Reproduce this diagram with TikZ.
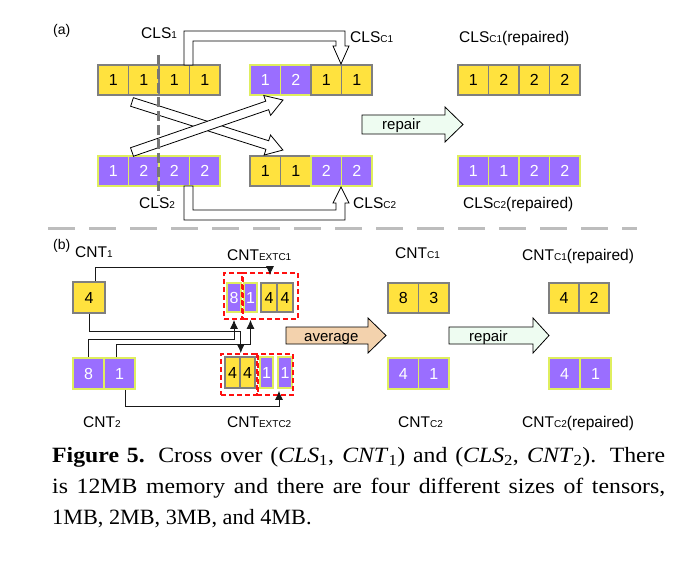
\documentclass[tikz,border=0pt]{standalone}
\usepackage{fontspec}
\newfontfamily\diag{Liberation Sans}
\newfontfamily\capfont[FakeStretch=1.09]{Liberation Serif}
\newfontfamily\capfontn[FakeStretch=1.02]{Liberation Serif}
\usetikzlibrary{arrows.meta,calc}

\definecolor{cellyellow}{HTML}{FFE23E}
\definecolor{cellgray}{HTML}{7F7F7F}
\definecolor{cellpurple}{HTML}{9A6EFF}
\definecolor{celllime}{HTML}{DFEE5E}
\definecolor{mint}{HTML}{EEFCF1}
\definecolor{tanfill}{HTML}{F3D2AD}
\definecolor{sepgray}{HTML}{BDBDBD}
\definecolor{cutgray}{HTML}{767676}
\definecolor{dashred}{HTML}{FF1010}

% label with a small baseline-aligned suffix
\newcommand\tagtext[3][]{{\fontsize{15.5}{16}\selectfont #2}{\fontsize{10}{10}\selectfont #3}{\fontsize{15.5}{16}\selectfont #1}}
% italic variable with a subscript index
\newcommand\vsub[2]{\textit{#1}\textsubscript{#2}}

\tikzset{
  cell/.style={rectangle, inner sep=0pt, line width=1.6pt, minimum height=30pt,
    font=\diag\fontsize{16}{16}\selectfont},
  ycell/.style={cell, draw=cellgray, fill=cellyellow, text=black},
  pcell/.style={cell, draw=celllime, fill=cellpurple, text=white},
  hollow/.style={draw=black, fill=white, line width=0.8pt, line join=miter},
  bigarrow/.style={draw=black, line width=0.8pt, line join=miter},
  lbl/.style={anchor=base west, inner sep=0pt, font=\diag},
  conn/.style={draw=black!90, line width=0.9pt, -{Latex[length=9pt,width=8pt]}},
  redbox/.style={draw=dashred, line width=1.7pt, dash pattern=on 5pt off 3pt},
  capt/.style={anchor=base west, inner sep=0pt, font=\capfont\fontsize{21.8}{24}\selectfont},
}

\begin{document}
\begin{tikzpicture}[x=1pt, y=-1pt]
\fill[white] (0,0) rectangle (677,564);
\useasboundingbox (0,0) rectangle (677,564);

% ---------------- part (a): class crossover ----------------
\node[lbl, font=\diag\fontsize{14}{14}\selectfont] (la) at (53,35) {(a)};

% CLS1
\node[ycell, minimum width=30.5pt] (p1k1) at (113.25,80) {1};
\node[ycell, minimum width=30.5pt] (p1k2) at (143.75,80) {1};
\node[ycell, minimum width=30.5pt] (p1k3) at (174.25,80) {1};
\node[ycell, minimum width=30.5pt] (p1k4) at (204.75,80) {1};
% CLS_C1
\node[pcell, minimum width=30.5pt] (q1k1) at (265.25,80) {1};
\node[pcell, minimum width=30.5pt] (q1k2) at (295.75,80) {2};
\node[ycell, minimum width=30.5pt] (q1k3) at (326.25,80) {1};
\node[ycell, minimum width=30.5pt] (q1k4) at (356.75,80) {1};
% CLS_C1 repaired
\node[ycell, minimum width=30.5pt] (r1k1) at (473.25,80) {1};
\node[ycell, minimum width=30.5pt] (r1k2) at (503.75,80) {2};
\node[ycell, minimum width=30.5pt] (r1k3) at (534.25,80) {2};
\node[ycell, minimum width=30.5pt] (r1k4) at (564.75,80) {2};
% CLS2
\node[pcell, minimum width=30.5pt] (p2k1) at (113.25,171) {1};
\node[pcell, minimum width=30.5pt] (p2k2) at (143.75,171) {2};
\node[pcell, minimum width=30.5pt] (p2k3) at (174.25,171) {2};
\node[pcell, minimum width=30.5pt] (p2k4) at (204.75,171) {2};
% CLS_C2
\node[ycell, minimum width=30.5pt] (q2k1) at (265.25,171) {1};
\node[ycell, minimum width=30.5pt] (q2k2) at (295.75,171) {1};
\node[pcell, minimum width=30.5pt] (q2k3) at (326.25,171) {2};
\node[pcell, minimum width=30.5pt] (q2k4) at (356.75,171) {2};
% CLS_C2 repaired
\node[pcell, minimum width=30.5pt] (r2k1) at (473.25,171) {1};
\node[pcell, minimum width=30.5pt] (r2k2) at (503.75,171) {1};
\node[pcell, minimum width=30.5pt] (r2k3) at (534.25,171) {2};
\node[pcell, minimum width=30.5pt] (r2k4) at (564.75,171) {2};

% labels
\node[lbl] (lcls1) at (141,39) {\tagtext{CLS}{1}};
\node[lbl] (lclsc1) at (350,43) {\tagtext{CLS}{C1}};
\node[lbl] (lrep1) at (459,43) {\tagtext[(repaired)]{CLS}{C1}};
\node[lbl] (lcls2) at (139,208) {\tagtext{CLS}{2}};
\node[lbl] (lclsc2) at (353,208) {\tagtext{CLS}{C2}};
\node[lbl] (lrep2) at (463,208) {\tagtext[(repaired)]{CLS}{C2}};

% tail segment kept in place: hollow bracket arrows
\draw[hollow] (184,65) -- (184,31) -- (345,31) -- (345,46) -- (349,46) -- (341,64)
  -- (333,46) -- (336,46) -- (336,41) -- (193,41) -- (193,65) -- cycle;
\draw[hollow] (184,186) -- (184,220) -- (345,220) -- (345,203) -- (349,203) -- (341,187)
  -- (333,203) -- (336,203) -- (336,210) -- (193,210) -- (193,186) -- cycle;

% head segments exchanged: crossing hollow arrows
\begin{scope}[shift={(132,102)}, rotate=-17.65]
  \draw[hollow] (0,-4.5) -- (142,-4.5) -- (142,-10.5) -- (158.4,0) -- (142,10.5) -- (142,4.5) -- (0,4.5) -- cycle;
\end{scope}
\begin{scope}[shift={(132,152)}, rotate=19.0]
  \draw[hollow] (0,-4.5) -- (143,-4.5) -- (143,-10.5) -- (159.7,0) -- (143,10.5) -- (143,4.5) -- (0,4.5) -- cycle;
\end{scope}

% cut point
\draw[cutgray, line width=3pt, dash pattern=on 10pt off 4pt] (158,55) -- (158,196);

% repair step
\draw[bigarrow, fill=mint] (362,115) -- (445,115) -- (445,107) -- (463,124.5) -- (445,142)
  -- (445,134) -- (362,134) -- cycle;
\node[lbl, font=\diag\fontsize{15}{15}\selectfont] (repa) at (382,130) {repair};

% separator
\draw[sepgray, line width=3pt, dash pattern=on 27pt off 14pt] (48,228) -- (637,228);

% ---------------- part (b): count crossover ----------------
\node[lbl, font=\diag\fontsize{14}{14}\selectfont] (lb) at (53,249) {(b)};

% CNT1 and CNT2
\node[ycell, minimum width=32pt, minimum height=31pt] (b4) at (89,297.5) {4};
\node[pcell, minimum width=31pt, minimum height=31pt] (n8) at (88.5,373.5) {8};
\node[pcell, minimum width=31pt, minimum height=31pt] (n1) at (119.5,373.5) {1};

% CNT_EXTC1
\node[pcell, minimum width=14pt, minimum height=29pt] (ec1p8) at (234,297.5) {8};
\node[pcell, minimum width=13pt, minimum height=29pt] (ec1p1) at (250.5,297.5) {1};
\node[ycell, minimum width=16pt, minimum height=29pt] (ec1y1) at (269,297.5) {4};
\node[ycell, minimum width=16pt, minimum height=29pt] (ec1y2) at (285,297.5) {4};
\node[redbox, inner sep=0pt, minimum width=18pt, minimum height=46pt] (dA1) at (233,296) {};
\node[redbox, inner sep=0pt, minimum width=55pt, minimum height=46pt] (dA2) at (270.5,296) {};

% CNT_EXTC2
\node[ycell, minimum width=15pt, minimum height=31pt] (ec2y1) at (232.5,372.5) {4};
\node[ycell, minimum width=15pt, minimum height=31pt] (ec2y2) at (247.5,372.5) {4};
\node[pcell, minimum width=13pt, minimum height=31pt] (ec2p1) at (266.5,372.5) {1};
\node[pcell, minimum width=14pt, minimum height=31pt] (ec2p2) at (285,372.5) {1};
\node[redbox, inner sep=0pt, minimum width=37pt, minimum height=41pt] (dB1) at (239.5,374.5) {};
\node[redbox, inner sep=0pt, minimum width=36pt, minimum height=41pt] (dB2) at (275,374.5) {};

% CNT_C1 / CNT_C2 and repaired
\node[ycell, minimum width=30.5pt] (c1a) at (403.25,298) {8};
\node[ycell, minimum width=30.5pt] (c1b) at (433.75,298) {3};
\node[pcell, minimum width=30.5pt, minimum height=31pt] (c2a) at (403.25,373.5) {4};
\node[pcell, minimum width=30.5pt, minimum height=31pt] (c2b) at (433.75,373.5) {1};
\node[ycell, minimum width=30pt] (rc1a) at (564,298) {4};
\node[ycell, minimum width=30pt] (rc1b) at (594,298) {2};
\node[pcell, minimum width=31pt, minimum height=31pt] (rc2a) at (564.5,373.5) {4};
\node[pcell, minimum width=31pt, minimum height=31pt] (rc2b) at (595.5,373.5) {1};

% labels
\node[lbl] (lcnt1) at (75,257) {\tagtext{CNT}{1}};
\node[lbl] (lext1) at (227,260) {\tagtext{CNT}{EXTC1}};
\node[lbl] (lcntc1) at (395,258) {\tagtext{CNT}{C1}};
\node[lbl] (lrc1) at (522,260) {\tagtext[(repaired)]{CNT}{C1}};
\node[lbl] (lcnt2) at (83,427) {\tagtext{CNT}{2}};
\node[lbl] (lext2) at (227,427) {\tagtext{CNT}{EXTC2}};
\node[lbl] (lcntc2) at (398,427) {\tagtext{CNT}{C2}};
\node[lbl] (lrc2) at (522,427) {\tagtext[(repaired)]{CNT}{C2}};

% gene movements
\draw[conn] ([xshift=6pt]b4.north) -- ++(0,-14) -| ([xshift=1pt,yshift=-3pt]ec1y1.north |- dA2.north);
\draw[conn] (b4.south) -- ++(0,18) -| (ec2y1.east |- dB1.north);
\draw[conn] (n8.north) -- ++(0,-18) -| (ec1p8.south |- dA1.south);
\draw[conn] ([xshift=-3pt]n1.north) -- ++(0,-13) -| (ec1p1.south |- dA2.south);
\draw[conn] ([xshift=6pt]n1.south) -- ++(0,17) -| ([xshift=-6pt,yshift=-2pt]ec2p2.south);

% average and repair steps
\draw[bigarrow, fill=tanfill] (286,327) -- (368,327) -- (368,318) -- (386,335.5) -- (368,353)
  -- (368,344) -- (286,344) -- cycle;
\node[lbl, font=\diag\fontsize{15}{15}\selectfont] (avg) at (304,341) {average};
\draw[bigarrow, fill=mint] (449,327) -- (533,327) -- (533,318) -- (549,335.5) -- (533,353)
  -- (533,344) -- (449,344) -- cycle;
\node[lbl, font=\diag\fontsize{15}{15}\selectfont] (repb) at (469,341) {repair};

% ---------------- caption ----------------
\node[capt] (cap1) at (52,462) {\makebox[613pt][s]{\textbf{Figure 5.} Cross over (\vsub{CLS}{1}, \vsub{CNT}{1}) and (\vsub{CLS}{2}, \vsub{CNT}{2}). There}};
\node[capt] (cap2) at (52,493) {\makebox[613pt][s]{is 12MB memory and there are four different sizes of tensors,}};
\node[capt, font=\capfontn\fontsize{21.8}{24}\selectfont] (cap3) at (52,524) {1MB, 2MB, 3MB, and 4MB.};
\end{tikzpicture}
\end{document}
